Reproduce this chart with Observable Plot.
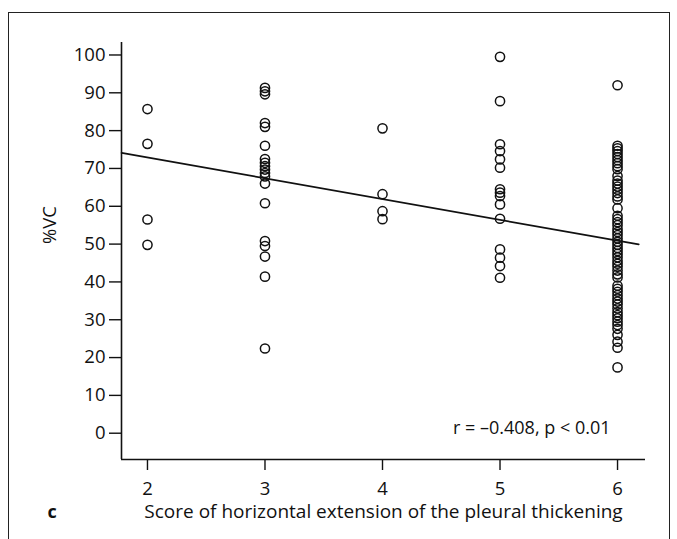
<!DOCTYPE html>
<html><head><meta charset="utf-8">
<script src="https://cdn.jsdelivr.net/npm/d3@7"></script>
<script src="https://cdn.jsdelivr.net/npm/@observablehq/plot@0.6"></script>
<style>
body{margin:0;background:#fff;}
#wrap{position:relative;width:677px;height:539px;overflow:hidden;background:#fff;}
#box{position:absolute;left:8px;top:12px;width:662px;height:560px;border:1.6px solid #222;box-sizing:border-box;}
#chart{position:absolute;left:0;top:0;}
</style></head><body>
<div id="wrap"><div id="box"></div><div id="chart"></div></div>
<script>
// Data
const scores = [2, 3, 4, 5, 6];
const vc2 = [85.7, 76.5, 56.5, 49.8];
const vc3 = [91.3, 90.4, 89.6, 82, 81, 76, 72.5, 71.5, 70.6, 69.7, 68.8, 67.9, 66, 60.8, 50.8, 49.5, 46.7, 41.4, 22.4];
const vc4 = [80.6, 63.2, 58.7, 56.6];
const vc5 = [99.5, 87.8, 76.4, 74.6, 72.4, 70.2, 64.5, 63.6, 62.7, 60.5, 56.7, 48.6, 46.4, 44.2, 41.1];
const vc6 = [92, 76, 75.3, 74.6, 73.8, 73, 72.2, 71.4, 70.6, 69.8, 68, 66.8, 66, 65.2, 64.4, 63.5, 62.6, 61.8,
  59.5, 57.5, 56.6, 55.8, 55, 54, 53.2, 52.4, 51.5, 50.6, 49.8, 49, 48.2, 47.4, 46.5, 45.6, 44.8, 44, 43, 42, 41.2,
  39, 38.2, 37.4, 36.5, 35.6, 34.8, 34, 33, 32, 31.2, 30.4, 29.5, 28.6, 27.6, 26, 24.2, 22.6, 17.4];
const xTicks = [2, 3, 4, 5, 6];
const yTicks = [0, 10, 20, 30, 40, 50, 60, 70, 80, 90, 100];
const xDomain = [1.779, 6.238];
const yDomain = [-6.95, 103.3];
// regression line
const fitIntercept = 83.9;
const fitSlope = -5.5;
const fitRange = [1.78, 6.18];
const statText = "r = \u20130.408, p < 0.01";
const panelLetter = "c";
const xTitle = "Score of horizontal extension of the pleural thickening";
const yTitle = "%VC";

const groups = [vc2, vc3, vc4, vc5, vc6];
const points = scores.flatMap((s, i) => groups[i].map(v => ({score: s, vc: v})));
const fit = fitRange.map(x => ({score: x, vc: fitIntercept + fitSlope * x}));

const font = "'Open Sans', sans-serif";
const chart = Plot.plot({
  width: 677, height: 539,
  marginLeft: 121, marginRight: 32, marginTop: 42, marginBottom: 80,
  style: {fontFamily: font, fontSize: "18px", color: "#111", background: "transparent", overflow: "visible"},
  x: {domain: xDomain},
  y: {domain: yDomain},
  marks: [
    Plot.axisX({ticks: xTicks, tickSize: 11, label: null, tickFormat: () => "", stroke: "#111", strokeWidth: 1.4}),
    Plot.axisY({ticks: yTicks, tickSize: 12, label: null, tickFormat: () => "", stroke: "#111", strokeWidth: 1.4}),
    Plot.text(xTicks, {x: d => d, y: () => yDomain[0], dy: 22, lineAnchor: "top", text: d => String(d), fontSize: 18.5, fill: "#111"}),
    Plot.text(yTicks, {x: () => xDomain[0], y: d => d, dx: -16, textAnchor: "end", text: d => String(d), fontSize: 18.5, fill: "#111"}),
    Plot.ruleX([xDomain[0]], {stroke: "#111", strokeWidth: 1.6}),
    Plot.ruleY([yDomain[0]], {stroke: "#111", strokeWidth: 1.6}),
    Plot.line(fit, {x: "score", y: "vc", stroke: "#111", strokeWidth: 1.8}),
    Plot.dot(points, {x: "score", y: "vc", r: 4.6, stroke: "#111", strokeWidth: 1.5, fill: "none"}),
    Plot.text([statText], {frameAnchor: "bottom-right", dx: -35, dy: -26, textAnchor: "end", fontSize: 18, fill: "#111"}),
    Plot.text([panelLetter], {frameAnchor: "bottom-left", dx: -74, dy: 58, fontSize: 18, fontWeight: "bold", fill: "#111"}),
    Plot.text([xTitle], {frameAnchor: "bottom", dy: 58, fontSize: 19, fill: "#111"}),
    Plot.text([yTitle], {frameAnchor: "left", dx: -71, dy: -7, rotate: -90, fontSize: 18.5, fill: "#111"})
  ]
});
document.getElementById("chart").appendChild(chart);
</script>
</body></html>
